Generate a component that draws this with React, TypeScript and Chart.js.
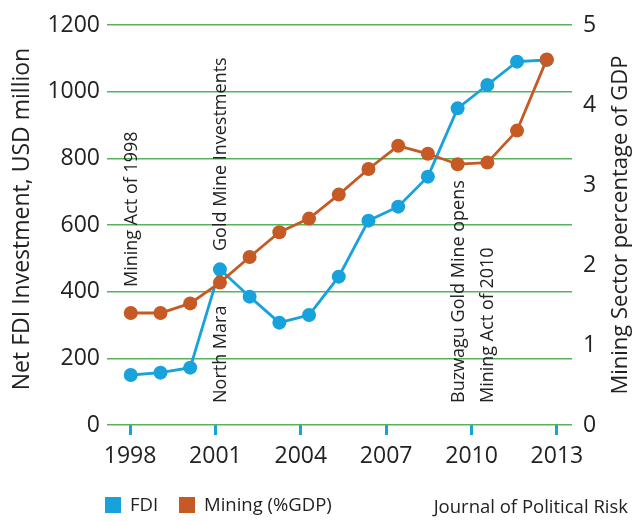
import React, { useEffect, useRef } from 'react';
import { Chart, registerables } from 'chart.js';

Chart.register(...registerables);

// ---- data ----
const years = [1998, 1999, 2000, 2001, 2002, 2003, 2004, 2005, 2006, 2007, 2008, 2009, 2010, 2011, 2012];
const fdi = [150, 157, 172, 467, 385, 307, 330, 445, 613, 655, 745, 950, 1020, 1090, 1095];
const miningGdp = [1.4, 1.4, 1.52, 1.78, 2.1, 2.41, 2.58, 2.88, 3.2, 3.49, 3.39, 3.26, 3.28, 3.68, 4.57];
const axisYears = [1998, 2001, 2004, 2007, 2010, 2013];
const annotationTexts = ['Mining Act of 1998', 'Gold Mine Investments', 'North Mara', 'Buzwagu Gold Mine opens', 'Mining Act of 2010'];
const annotationYears = [1998, 2001, 2001, 2009, 2010];
const annotationStart = [414, 522, 66, 66, 66]; // left-axis value where each label begins

const FONT = '"Open Sans", "Noto Sans", sans-serif';
const BLUE = '#17a2dc';
const ORANGE = '#c55a25';
const GREEN = '#55b35e';
const TEXT = '#222222';

const overlayPlugin = {
  id: 'overlay',
  afterDatasetsDraw(chart: any) {
    const ctx = chart.ctx;
    const xs = chart.scales.x2;
    const ys = chart.scales.y;
    ctx.save();
    ctx.fillStyle = TEXT;
    ctx.font = `18px ${FONT}`;
    ctx.textAlign = 'left';
    ctx.textBaseline = 'middle';
    annotationTexts.forEach((t, i) => {
      const x = xs.getPixelForValue(annotationYears[i]);
      const y = ys.getPixelForValue(annotationStart[i]);
      ctx.save();
      ctx.translate(x + 1, y);
      ctx.rotate(-Math.PI / 2);
      ctx.fillText(t, 0, 0);
      ctx.restore();
    });
    ctx.restore();
  },
  afterDraw(chart: any) {
    const ctx = chart.ctx;
    const area = chart.chartArea;
    const mid = (area.top + area.bottom) / 2;
    ctx.save();
    ctx.fillStyle = TEXT;
    ctx.font = `23px ${FONT}`;
    ctx.textAlign = 'center';
    ctx.textBaseline = 'middle';
    // left axis title
    ctx.save();
    ctx.translate(22, mid - 6);
    ctx.rotate(-Math.PI / 2);
    ctx.fillText('Net FDI Investment, USD million', 0, 0);
    ctx.restore();
    // right axis title (reads bottom to top)
    ctx.save();
    ctx.font = `22px ${FONT}`;
    ctx.translate(621, mid);
    ctx.rotate(-Math.PI / 2);
    ctx.fillText('Mining Sector percentage of GDP', 0, 0);
    ctx.restore();
    ctx.restore();

    // legend + source
    ctx.save();
    ctx.font = `18.5px ${FONT}`;
    ctx.textBaseline = 'middle';
    ctx.textAlign = 'left';
    ctx.fillStyle = BLUE;
    ctx.fillRect(105, 497, 16, 16);
    ctx.fillStyle = TEXT;
    ctx.fillText('FDI', 130, 506);
    ctx.fillStyle = ORANGE;
    ctx.fillRect(179, 497, 16, 16);
    ctx.fillStyle = TEXT;
    ctx.fillText('Mining (%GDP)', 204, 506);
    ctx.textAlign = 'right';
    ctx.fillText('Journal of Political Risk', 628, 508);
    ctx.restore();
  },
};

export default function App() {
  const ref = useRef<HTMLCanvasElement | null>(null);

  useEffect(() => {
    if (!ref.current) return;
    Chart.defaults.font.family = FONT;
    const chart = new Chart(ref.current, {
      type: 'line',
      data: {
        datasets: [
          {
            label: 'FDI',
            data: years.map((y, i) => ({ x: y, y: fdi[i] })),
            xAxisID: 'x2',
            yAxisID: 'y',
            borderColor: BLUE,
            backgroundColor: BLUE,
            borderWidth: 2.8,
            pointRadius: 7,
            pointBorderWidth: 0,
            pointBackgroundColor: BLUE,
            tension: 0,
            order: 1,
          },
          {
            label: 'Mining (%GDP)',
            data: years.map((y, i) => ({ x: y, y: miningGdp[i] })),
            xAxisID: 'x2',
            yAxisID: 'y1',
            borderColor: ORANGE,
            backgroundColor: ORANGE,
            borderWidth: 2.8,
            pointRadius: 7,
            pointBorderWidth: 0,
            pointBackgroundColor: ORANGE,
            tension: 0,
            order: 0,
          },
        ],
      },
      options: {
        animation: false,
        responsive: false,
        devicePixelRatio: 1,
        layout: { padding: { top: 25, left: 0, right: 0, bottom: 0 } },
        plugins: { legend: { display: false }, tooltip: { enabled: false } },
        scales: {
          x: {
            type: 'linear',
            position: 'bottom',
            min: 1997.19,
            max: 2013.53,
            afterBuildTicks: (s: any) => {
              s.ticks = axisYears.map((v) => ({ value: v }));
            },
            afterFit: (s: any) => {
              s.height = 96;
            },
            ticks: {
              callback: (v: any) => String(v),
              font: { size: 23, family: FONT },
              color: TEXT,
              padding: 8,
              maxRotation: 0,
              autoSkip: false,
            },
            grid: {
              drawOnChartArea: false,
              drawTicks: true,
              tickLength: 10,
              tickWidth: 3,
              tickColor: BLUE,
              color: BLUE,
            },
            border: { display: false },
          },
          x2: {
            type: 'linear',
            display: false,
            min: 1997.2,
            max: 2012.85,
          },
          y: {
            position: 'left',
            min: 0,
            max: 1200,
            afterFit: (s: any) => {
              s.width = 107;
            },
            ticks: {
              stepSize: 200,
              padding: 7,
              callback: (v: any) => String(v),
              font: { size: 23, family: FONT },
              color: TEXT,
            },
            grid: { color: GREEN, lineWidth: 1.5, drawTicks: false },
            border: { display: false },
          },
          y1: {
            position: 'right',
            min: 0,
            max: 5,
            afterFit: (s: any) => {
              s.width = 60;
            },
            ticks: {
              stepSize: 1,
              padding: 11,
              font: { size: 23, family: FONT },
              color: TEXT,
            },
            grid: { drawOnChartArea: false, drawTicks: false },
            border: { display: false },
          },
        },
      },
      plugins: [overlayPlugin],
    } as any);
    return () => chart.destroy();
  }, []);

  return (
    <div style={{ position: 'fixed', left: 0, top: 0, width: 632, height: 521, background: '#ffffff' }}>
      <canvas ref={ref} width={632} height={521} style={{ display: 'block' }} />
    </div>
  );
}
